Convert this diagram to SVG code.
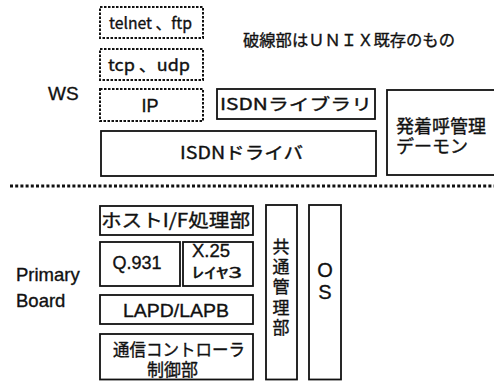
<svg xmlns="http://www.w3.org/2000/svg" width="494" height="381" viewBox="0 0 494 381">
<style>
.box{fill:#fff;stroke:#111;stroke-width:1.8}
.dash{fill:#fff;stroke:#111;stroke-width:2;stroke-dasharray:2.5 1.5}
text{font-family:"Liberation Sans","Noto Sans CJK JP",sans-serif;fill:#111;stroke:#111;stroke-width:0.35}
.j{font-family:"Noto Sans CJK JP","Liberation Sans",sans-serif}
.m{text-anchor:middle}
</style>
<rect width="494" height="381" fill="#fff"/>
<g id="labels">
<text x="48" y="100" font-size="19">WS</text>
<text x="16" y="281" font-size="18.5"><tspan x="16" y="281">Primary</tspan><tspan x="16" y="307">Board</tspan></text>
<text class="j" x="243" y="46" font-size="15.5" textLength="212" lengthAdjust="spacingAndGlyphs">破線部はＵＮＩＸ既存のもの</text>
</g>
<g id="separator">
<line x1="10" y1="186" x2="494" y2="186" stroke="#111" stroke-width="3" stroke-dasharray="3 2.2"/>
</g>
<g id="telnet"><rect class="dash" x="100" y="7" width="103" height="31"/><text class="j" x="109" y="29" font-size="16" textLength="83" lengthAdjust="spacingAndGlyphs">telnet 、ftp</text></g>
<g id="tcp"><rect class="dash" x="100" y="49" width="103" height="31"/><text class="j" x="108" y="71" font-size="16" textLength="82" lengthAdjust="spacingAndGlyphs">tcp 、udp</text></g>
<g id="ip"><rect class="dash" x="100" y="89" width="103" height="32"/><text class="m" x="150" y="112" font-size="18">IP</text></g>
<g id="isdnlib"><rect class="box" x="217" y="89" width="158" height="30"/><text class="j" x="220" y="110" font-size="16" textLength="152" lengthAdjust="spacingAndGlyphs">ISDNライブラリ</text></g>
<g id="isdndrv"><rect class="box" x="101" y="131" width="275" height="45"/><text class="j" x="180" y="159" font-size="17" textLength="123" lengthAdjust="spacingAndGlyphs">ISDNドライバ</text></g>
<g id="daemon"><rect class="box" x="387" y="90" width="112" height="85"/><text class="j" font-size="18"><tspan x="396" y="133">発着呼管理</tspan><tspan x="396" y="153">デーモン</tspan></text></g>
<g id="hostif"><rect class="box" x="100" y="206" width="153" height="29"/><text class="j" x="101" y="227" font-size="18" textLength="149" lengthAdjust="spacingAndGlyphs">ホストI/F処理部</text></g>
<g id="q931"><rect class="box" x="100" y="242" width="80" height="44"/><text class="m" x="137" y="269" font-size="18">Q.931</text></g>
<g id="x25"><rect class="box" x="183" y="242" width="70" height="44"/><text x="192" y="257" font-size="18.5">X.25</text><text class="j" x="192" y="278" font-size="15" textLength="50" lengthAdjust="spacingAndGlyphs">ﾚｲﾔ3</text></g>
<g id="lapd"><rect class="box" x="100" y="295" width="153" height="29"/><text class="m" x="176" y="317" font-size="19" textLength="106" lengthAdjust="spacingAndGlyphs">LAPD/LAPB</text></g>
<g id="comctl"><rect class="box" x="100" y="334" width="153" height="45.5"/><text class="j" font-size="17"><tspan x="113" y="356" textLength="132" lengthAdjust="spacingAndGlyphs">通信コントローラ</tspan><tspan x="147" y="376">制御部</tspan></text></g>
<g id="common"><rect class="box" x="266" y="205" width="31" height="174.5"/>
<text class="j" x="281" y="238" font-size="17" style="writing-mode:vertical-rl;letter-spacing:3.2px">共通管理部</text></g>
<g id="os"><rect class="box" x="309" y="205" width="32" height="174.5"/><text class="m" x="325" y="277" font-size="20"><tspan x="325" y="277">O</tspan><tspan x="325" y="299">S</tspan></text></g>
</svg>
